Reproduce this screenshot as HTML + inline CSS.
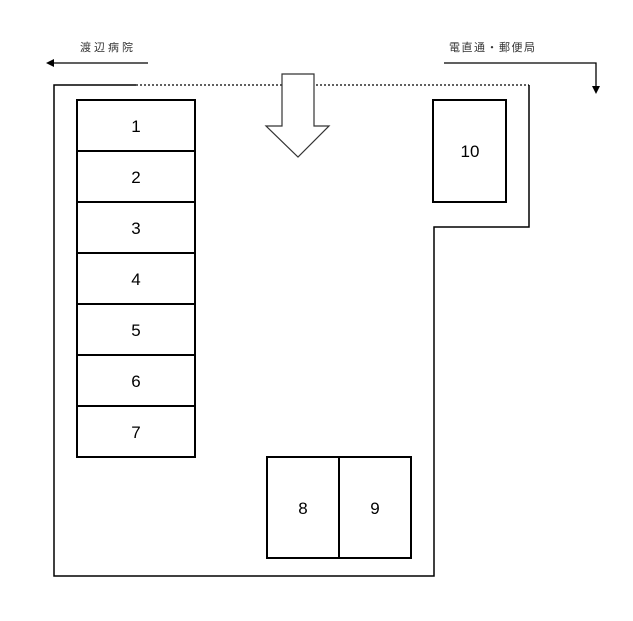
<!DOCTYPE html>
<html><head><style>body{margin:0;background:#fff}</style></head><body>
<svg width="633" height="621" xmlns="http://www.w3.org/2000/svg" style="display:block">
<rect width="633" height="621" fill="#fff"/>
<g fill="none" stroke="#000" stroke-width="1.5">
<polyline points="136,85 54,85 54,576 434,576 434,227 529,227 529,85"/>
<line x1="136" y1="85" x2="529" y2="85" stroke-dasharray="2,2" stroke-width="1.2"/>
</g>
<g fill="none" stroke="#000" stroke-width="2">
<rect x="77" y="100" width="118" height="357"/>
<line x1="77" y1="151" x2="195" y2="151"/><line x1="77" y1="202" x2="195" y2="202"/>
<line x1="77" y1="253" x2="195" y2="253"/><line x1="77" y1="304" x2="195" y2="304"/>
<line x1="77" y1="355" x2="195" y2="355"/><line x1="77" y1="406" x2="195" y2="406"/>
<rect x="433" y="100" width="73" height="102"/>
<rect x="267" y="457" width="144" height="101"/>
<line x1="339" y1="457" x2="339" y2="558"/>
</g>
<polygon points="282,74 314,74 314,126 329,126 298,157 266,126 282,126" fill="#fff" stroke="#333" stroke-width="1.2"/>
<g stroke="#000" stroke-width="1.3" fill="none">
<line x1="52" y1="63" x2="148" y2="63"/>
<polyline points="444,63 596,63 596,88"/>
</g>
<polygon points="46,63 54,59 54,67" fill="#000"/>
<polygon points="592,86 600,86 596,94" fill="#000"/>
<g font-family="Liberation Sans, sans-serif" font-size="17" text-anchor="middle" fill="#000">
<text x="136" y="132">1</text><text x="136" y="183">2</text><text x="136" y="234">3</text>
<text x="136" y="285">4</text><text x="136" y="336">5</text><text x="136" y="387">6</text>
<text x="136" y="438">7</text><text x="303" y="514">8</text><text x="375" y="514">9</text>
<text x="470" y="157">10</text>
</g>
<g font-family="Liberation Sans, Noto Sans CJK JP, sans-serif" font-size="11" fill="#333" letter-spacing="3">
<text x="80" y="51">渡辺病院</text>
<text x="449" y="51" letter-spacing="1.5">電直通・郵便局</text>
</g>
</svg>
</body></html>
